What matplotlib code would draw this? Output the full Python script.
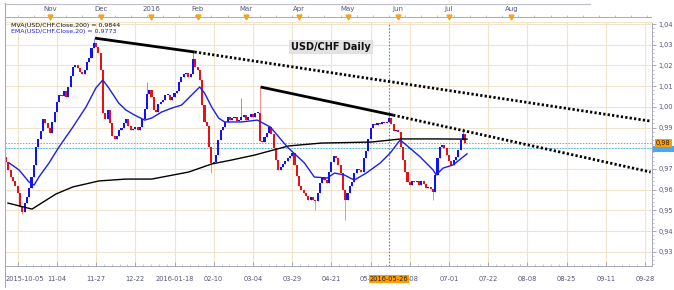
import numpy as np
import matplotlib.pyplot as plt
from matplotlib.patches import Rectangle
from matplotlib.transforms import blended_transform_factory

W, H = 674, 290

# daily closes USD/CHF, 2015-10-05 .. 2016-07-12
closes = [
    0.9735, 0.9695, 0.9661, 0.9642, 0.9618, 0.9584, 0.9516, 0.9492, 0.9535, 0.9564,
    0.9608, 0.9661, 0.9719, 0.9806, 0.9845, 0.9883, 0.9941, 0.9922, 0.9898, 0.9874,
    0.9927, 0.9975, 1.0023, 1.0057, 1.0052, 1.0076, 1.0047, 1.0096, 1.0149, 1.0192,
    1.0202, 1.0187, 1.0168, 1.0158, 1.0178, 1.0216, 1.0236, 1.0284, 1.0308, 1.0289,
    1.0260, 1.0178, 0.9970, 0.9941, 0.9985, 0.9922, 0.9859, 0.9845, 0.9859, 0.9888,
    0.9898, 0.9922, 0.9941, 0.9907, 0.9888, 0.9893, 0.9902, 0.9888, 0.9902,
    0.9941, 0.9989, 1.0062, 1.0081, 1.0047, 0.9985, 0.9975, 1.0014, 1.0023, 1.0033,
    1.0057, 1.0057, 1.0033, 1.0047, 1.0067, 1.0076, 1.0120, 1.0144, 1.0158, 1.0163,
    1.0144, 1.0158, 1.0230, 1.0192, 1.0178, 1.0129, 1.0009, 0.9927, 0.9907, 0.9806,
    0.9729, 0.9733, 0.9767, 0.9840, 0.9888, 0.9902, 0.9927, 0.9951, 0.9936, 0.9946,
    0.9951, 0.9931, 0.9936, 0.9951, 0.9960, 0.9936, 0.9951, 0.9965, 0.9951, 0.9970,
    0.9970, 0.9835, 0.9830, 0.9854, 0.9874, 0.9902, 0.9869, 0.9801, 0.9743, 0.9695,
    0.9709, 0.9724, 0.9738, 0.9753, 0.9762, 0.9777,
    0.9719, 0.9666, 0.9618, 0.9598, 0.9584, 0.9569, 0.9550, 0.9564, 0.9550, 0.9545,
    0.9584, 0.9632, 0.9661,
    0.9646, 0.9632, 0.9685, 0.9733, 0.9762, 0.9753, 0.9719, 0.9680, 0.9598,
    0.9550, 0.9584, 0.9618, 0.9637, 0.9680, 0.9700, 0.9695, 0.9685, 0.9753, 0.9787,
    0.9845, 0.9898, 0.9917, 0.9912, 0.9922, 0.9917, 0.9927, 0.9922, 0.9927, 0.9946,
    0.9917, 0.9883, 0.9888, 0.9878, 0.9806, 0.9743, 0.9685, 0.9637, 0.9622, 0.9642,
    0.9637, 0.9642, 0.9622, 0.9642, 0.9627, 0.9608, 0.9613, 0.9603, 0.9589, 0.9671,
    0.9753, 0.9806, 0.9816, 0.9801, 0.9767, 0.9738, 0.9719, 0.9743, 0.9758, 0.9791,
    0.9840, 0.9869, 0.9825,
]
first_open = 0.9760
# notable wicks (bar index -> price)
wick_highs = {38: 1.0332, 61: 1.0120, 81: 1.0265, 102: 1.0043, 110: 1.0096,
              166: 0.9970, 198: 0.9898}
wick_lows = {7: 0.9480, 89: 0.9680, 134: 0.9500, 147: 0.9453, 185: 0.9550}

# MVA 200 and EMA 20 (bar index, price)
ma200_x = [0.8, 11.2, 21.6, 28.9, 40.2, 51.9, 63.1, 79.1, 89.1, 97.7, 107.7,
           122.4, 136.6, 158.3, 171.2, 187.2, 199.8]
ma200_y = [0.9535, 0.9506, 0.9579, 0.9613, 0.9642, 0.9651, 0.9651, 0.9685, 0.9724,
           0.9743, 0.9767, 0.9811, 0.9825, 0.9830, 0.9845, 0.9845, 0.9844]
ema20_x = [1.3, 5.6, 9.9, 12.1, 14.2, 18.6, 22.9, 28.9, 34.6, 38.9, 41.9, 44.5, 48.8,
           51.9, 55.7, 60.1, 63.1, 67.4, 71.8, 76.1, 80.4, 83.9, 86.0, 89.1, 92.1,
           94.7, 102.0, 108.9, 114.6, 121.9, 129.3, 133.6, 139.2, 142.3, 146.6,
           150.9, 156.1, 162.2, 166.5, 170.8, 173.4, 179.5, 185.1, 186.4, 189.4,
           193.7, 198.1, 199.8]
ema20_y = [0.9729, 0.9695, 0.9637, 0.9622, 0.9661, 0.9729, 0.9806, 0.9902, 0.9999,
           1.0091, 1.0130, 1.0091, 1.0018, 0.9985, 0.9960, 0.9936, 0.9946, 0.9975,
           0.9994, 1.0009, 1.0057, 1.0096, 1.0067, 0.9999, 0.9946, 0.9927, 0.9927,
           0.9936, 0.9902, 0.9806, 0.9729, 0.9661, 0.9656, 0.9680, 0.9671, 0.9646,
           0.9680, 0.9729, 0.9777, 0.9840, 0.9816, 0.9758, 0.9695, 0.9671, 0.9704,
           0.9719, 0.9758, 0.9773]

# trend lines: solid part then dotted extension
trend1_x = [38.5, 81.7, 279.4]
trend1_y = [1.0332, 1.0265, 0.9931]
trend2_x = [110.3, 167.8, 279.4]
trend2_y = [1.0096, 0.9960, 0.9685]

price_levels = [0.9825, 0.9800]
cross_bar = 166

tick_labels = ["2015-10-05", "11-04", "11-27", "12-22", "2016-01-18", "02-10", "03-04",
               "03-29", "04-21", "05-", "-08", "07-01", "07-22", "08-08", "08-25",
               "09-11", "09-28"]
tick_pos = [5 + 17 * k for k in range(len(tick_labels))]
months = ["Nov", "Dec", "2016", "Feb", "Mar", "Apr", "May", "Jun", "Jul", "Aug"]
month_pos = [19, 41, 63, 83, 104, 127, 148, 170, 192, 219]

grid_c = '#f1e4cc'
lab_c = '#55557a'

fig = plt.figure(figsize=(W / 100, H / 100), dpi=100)
ax = fig.add_axes([5 / W, (H - 266) / H, (652 - 5) / W, (266 - 22) / H])
ax.set_xlim(-0.5, 280)
ax.set_ylim(0.9231, 1.041)

for p in np.arange(0.93, 1.045, 0.01):
    ax.axhline(p, color=grid_c, lw=0.8, zorder=0)
for t in tick_pos:
    ax.axvline(t, color=grid_c, lw=0.8, zorder=0)

# candles
opens = [first_open] + closes[:-1]
xs = np.arange(len(closes))
highs, lows, body_b, body_h, cols, wcols = [], [], [], [], [], []
for i, (o, c) in enumerate(zip(opens, closes)):
    up = c >= o
    highs.append(wick_highs.get(i, max(o, c)))
    lows.append(wick_lows.get(i, min(o, c)))
    body_b.append(min(o, c))
    body_h.append(max(abs(c - o), 0.0004))
    cols.append('#1010ff' if up else '#e81018')
    wcols.append('#8c8cff' if up else '#ff8c8c')
ax.vlines(xs, lows, highs, colors=wcols, lw=0.7, zorder=2)
ax.bar(xs, body_h, bottom=body_b, width=0.9, color=cols, linewidth=0, zorder=3)

ax.plot(ma200_x, ma200_y, color='black', lw=1.0, zorder=4)
ax.plot(ema20_x, ema20_y, color='#1e1ee6', lw=1.0, zorder=4)

for tx_, ty_ in [(trend1_x, trend1_y), (trend2_x, trend2_y)]:
    ax.plot(tx_[:2], ty_[:2], color='black', lw=2.0, solid_capstyle='butt', zorder=5)
    ax.plot(tx_[1:], ty_[1:], color='black', lw=2.0, linestyle=(0, (0.8, 0.8)), zorder=5)

for lv in price_levels:
    ax.axhline(lv, color='#3fb4f0', lw=0.7, linestyle=(0, (1.5, 1.5)), zorder=1)
ax.axvline(cross_bar, color='#2a8ff0', lw=0.8, linestyle=(0, (1.5, 1.5)), zorder=1)

# axes styling
for s in ['top', 'bottom', 'left', 'right']:
    ax.spines[s].set_color('#a8a8b8')
    ax.spines[s].set_linewidth(0.7)
ax.spines['top'].set_color(grid_c)

ax.yaxis.tick_right()
yt = np.arange(0.93, 1.045, 0.01)
ax.set_yticks(yt)
ax.set_yticklabels([f"{v:.2f}".replace('.', ',') for v in yt])
ax.set_yticks(np.arange(0.924, 1.041, 0.002), minor=True)
ax.tick_params(axis='y', which='major', labelsize=4.8, labelcolor=lab_c, color='#8a8a9a',
               length=3, width=0.5, pad=1.5)
ax.tick_params(axis='y', which='minor', color='#9a9aaa', length=1.5, width=0.4)

ax.set_xticks(tick_pos)
ax.set_xticklabels([])
ax.set_xticks(np.arange(5, 280, 3.4), minor=True)
ax.tick_params(axis='x', which='major', direction='in', length=3, width=0.5, color='#8a8a9a')
ax.tick_params(axis='x', which='minor', direction='in', length=1.5, width=0.4, color='#9a9aaa')

tx = blended_transform_factory(ax.transData, ax.transAxes)
ty = -13 / 244
for p, lab in zip(tick_pos, tick_labels):
    ha, xp = 'center', p
    if lab == tick_labels[0]:
        ha, xp = 'left', -0.2
    elif lab.endswith('-'):
        ha, xp = 'right', cross_bar - 8.2
    elif lab.startswith('-'):
        ha, xp = 'left', cross_bar + 8.2
    ax.text(xp, ty, lab, transform=tx, ha=ha, va='center', fontsize=4.8,
            color=lab_c, clip_on=False)
ax.text(cross_bar, ty, "2016-05-26", transform=tx, ha='center', va='center', fontsize=4.8,
        color='#222222', clip_on=False, zorder=10,
        bbox=dict(facecolor='#ff9d00', edgecolor='none', pad=0.8))

# price tags on the right (blue tag mostly hidden under the orange one)
ry = blended_transform_factory(ax.transAxes, ax.transData)
ax.add_patch(Rectangle((1.002, 0.9783), 0.032, 0.0030, transform=ry, clip_on=False,
                       facecolor='#45aaf2', edgecolor='none', zorder=9))
ax.text(1.006, 0.9825, "0,98", transform=ry, ha='left', va='center', fontsize=4.8,
        color='#222222', clip_on=False, zorder=10,
        bbox=dict(facecolor='#ff9d00', edgecolor='none', pad=0.8))

# legend and title
fig.text(11 / W, 1 - 25 / H, "MVA(USD/CHF.Close,200) = 0,9844", fontsize=4.5,
         color='#111111', va='center')
fig.text(11 / W, 1 - 32 / H, "EMA(USD/CHF.Close,20) = 0,9773", fontsize=4.5,
         color='#2020e0', va='center')
fig.text(331 / W, 1 - 47 / H, "USD/CHF Daily", fontsize=7, fontweight='bold',
         ha='center', va='center', color='#111111',
         bbox=dict(facecolor='#e2e2e2', edgecolor='none', pad=1.5))

# top month ruler
axt = fig.add_axes([5 / W, (H - 21) / H, (652 - 5) / W, 18 / H])
axt.set_xlim(-0.5, 280)
axt.set_ylim(0, 1)
axt.axis('off')
axt.axhline(0.2, color='#a8a8b8', lw=0.7)
axt.vlines(np.arange(5, 280, 7), 0.2, 0.35, color='#a8a8b8', lw=0.5)
for m, p in zip(months, month_pos):
    axt.text(p, 0.65, m, ha='center', va='center', fontsize=5, color=lab_c)
axt.plot(month_pos, [0.22] * len(month_pos), linestyle='none', marker='v',
         markersize=3.5, color='#f5a21e')
fig.add_artist(plt.Line2D([5 / W, 590 / W], [1 - 4 / H, 1 - 4 / H], color='#c0c0cc', lw=0.8))
fig.add_artist(plt.Line2D([5 / W, 5 / W], [1 - 3 / H, 1 - 287 / H], color='#a8a8b8', lw=0.8))

fig.savefig('out.png', dpi=100)
